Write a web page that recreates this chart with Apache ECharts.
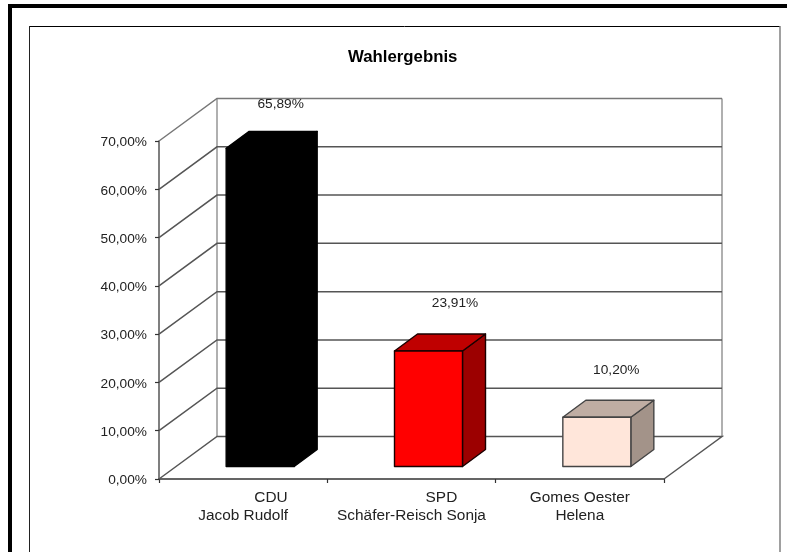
<!DOCTYPE html>
<html><head><meta charset="utf-8">
<style>html,body{margin:0;padding:0;background:#fff}#c{width:787px;height:552px}</style>
<script src="https://cdn.jsdelivr.net/npm/echarts@6/dist/echarts.min.js"></script>
</head><body><div id="c"></div>
<script>
const title = 'Wahlergebnis';
const categories = [
  '\u00A0'.repeat(13) + 'CDU\nJacob Rudolf',
  '\u00A0'.repeat(14) + 'SPD\nSchäfer-Reisch Sonja',
  'Gomes Oester\nHelena'
];
const values = [65.89, 23.91, 10.20];
const valueLabels = ['65,89%', '23,91%', '10,20%'];
const ticks = [0, 10, 20, 30, 40, 50, 60, 70];

const frontColors = ['#000000', '#FF0000', '#FFE6DA'];
const topColors = ['#000000', '#BF0000', '#BFADA3'];
const sideColors = ['#000000', '#9C0000', '#A39389'];
const edgeColors = ['#000000', '#1a0000', '#444444'];

const wallDx = 58, wallDy = 42.5;      // depth of the floor
const barInsetX = 17, barInsetY = 12.5; // bar's front face behind the axis
const barDx = 23, barDy = 17;           // depth of a bar
const barHalf = 34;
const labelNudge = [[0, 7], [6, 3], [-1, 4]];

function wallItem(params, api) {
  const v = api.value(0);
  const g = params.coordSys;
  const y = api.coord([0, v])[1];
  const x0 = g.x, x1 = g.x + g.width;
  const children = [];
  const grey = v === 70 ? '#777777' : '#555555';
  const shape = {points: [[x0, y], [x0 + wallDx, y - wallDy], [x1 + wallDx, y - wallDy]]};
  if (v === 0) {
    shape.points.push([x1, y]);
    const top = api.coord([0, 70])[1] - wallDy;
    [x0 + wallDx, x1 + wallDx].forEach(x => children.push({
      type: 'line',
      shape: {x1: x, y1: top, x2: x, y2: y - wallDy},
      style: {stroke: '#a8a8a8', lineWidth: 1.8}
    }));
  }
  children.push({type: 'polyline', shape, style: {stroke: grey, lineWidth: 1.5, fill: null}});
  return {type: 'group', children};
}

function barItem(params, api) {
  const i = params.dataIndex;
  const base = api.coord([i, 0]);
  const top = api.coord([i, api.value(1)]);
  const l = base[0] + barInsetX - barHalf, r = base[0] + barInsetX + barHalf;
  const b = base[1] - barInsetY, t = top[1] - barInsetY;
  const st = c => ({fill: c, stroke: edgeColors[i], lineWidth: 1.4, lineJoin: 'round'});
  return {type: 'group', children: [
    {type: 'polygon', shape: {points: [[r, b], [r + barDx, b - barDy], [r + barDx, t - barDy], [r, t]]}, style: st(sideColors[i])},
    {type: 'polygon', shape: {points: [[l, t], [l + barDx, t - barDy], [r + barDx, t - barDy], [r, t]]}, style: st(topColors[i])},
    {type: 'rect', shape: {x: l, y: t, width: r - l, height: b - t}, style: st(frontColors[i])},
    {type: 'text', x: (l + r + barDx) / 2 + 9 + labelNudge[i][0], y: t - barDy - 27 + labelNudge[i][1],
      style: {text: valueLabels[i], fill: '#222', font: '13.7px "Liberation Sans"', align: 'center', verticalAlign: 'bottom'}}
  ]};
}

const chart = echarts.init(document.getElementById('c'), null, {renderer: 'canvas'});
chart.setOption({
  animation: false,
  backgroundColor: '#fff',
  textStyle: {fontFamily: '"Liberation Sans"'},
  title: {text: title, left: 343, top: 44,
    textStyle: {fontSize: 16.8, fontWeight: 'bold', color: '#000', fontFamily: '"Liberation Sans"'}},
  grid: {left: 159, top: 141, width: 505, height: 338, containLabel: false},
  xAxis: {type: 'category', data: categories,
    axisLine: {lineStyle: {color: '#333', width: 1.5}},
    axisTick: {show: true, length: 4, lineStyle: {color: '#333', width: 1.2}},
    axisLabel: {color: '#222', fontSize: 15.4, margin: 10, lineHeight: 18, interval: 0, fontFamily: '"Liberation Sans"'},
    splitLine: {show: false}},
  yAxis: {type: 'value', min: 0, max: 70, interval: 10,
    axisLine: {show: true, lineStyle: {color: '#555', width: 1.5}},
    axisTick: {show: true, length: 4, lineStyle: {color: '#333', width: 1.2}},
    axisLabel: {color: '#222', fontSize: 13.7, margin: 12, fontFamily: '"Liberation Sans"',
      formatter: v => '{v|' + v.toFixed(2).replace('.', ',') + '%}',
      rich: {v: {color: '#222', fontSize: 13.7, fontFamily: '"Liberation Sans"', padding: [3, 0, 0, 0]}}},
    splitLine: {show: false}},
  graphic: [
    {type: 'rect', silent: true, z: -1, shape: {x: 8, y: 4, width: 779, height: 4}, style: {fill: '#000'}},
    {type: 'rect', silent: true, z: -1, shape: {x: 8, y: 4, width: 4, height: 548}, style: {fill: '#000'}},
    {type: 'line', silent: true, z: -1, shape: {x1: 29, y1: 26.5, x2: 780, y2: 26.5}, style: {stroke: '#000', lineWidth: 1}},
    {type: 'line', silent: true, z: -1, shape: {x1: 29.5, y1: 26, x2: 29.5, y2: 552}, style: {stroke: '#222', lineWidth: 1}},
    {type: 'line', silent: true, z: -1, shape: {x1: 780, y1: 26, x2: 780, y2: 552}, style: {stroke: '#808080', lineWidth: 1.5}}
  ],
  series: [
    {type: 'custom', silent: true, z: 1, renderItem: wallItem, data: ticks.map(v => [v]),
      encode: {y: 0}, clip: false},
    {type: 'custom', silent: true, z: 2, renderItem: barItem, data: values.map((v, i) => [i, v]),
      encode: {x: 0, y: 1}, clip: false}
  ]
});
</script></body></html>
